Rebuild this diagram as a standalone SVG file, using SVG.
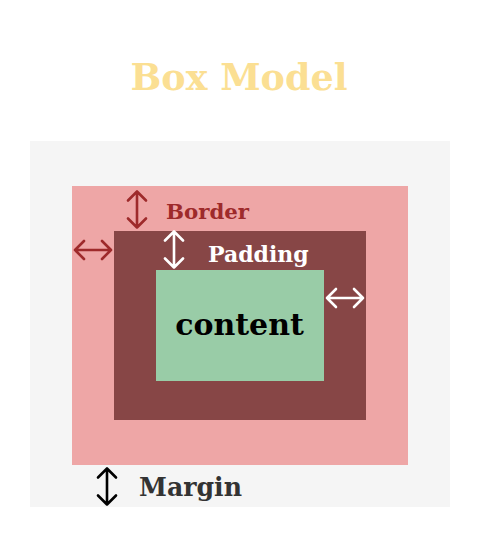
<svg xmlns="http://www.w3.org/2000/svg" xmlns:xlink="http://www.w3.org/1999/xlink" width="480" height="544" viewBox="0 0 480 544">
<style>
text{font-family:"DejaVu Serif","Liberation Serif",serif;font-weight:bold}
.arr{fill:none;stroke-width:2.6;stroke-linecap:round;stroke-linejoin:round}
</style>
<defs>
<path id="va" d="M0,-18V18M-9,-9L0,-18L9,-9M-9,9L0,18L9,9"/>
<path id="ha" d="M-18,0H18M-9,-9L-18,0L-9,9M9,-9L18,0L9,9"/>
</defs>
<rect width="480" height="544" fill="#ffffff"/>
<text x="239" y="90" text-anchor="middle" font-size="36.5" fill="#fbdf93">Box Model</text>
<g id="margin">
<rect x="30" y="141" width="420" height="366" fill="#f5f5f5"/>
</g>
<g id="border">
<rect x="72" y="186" width="336" height="279" fill="#eea6a6"/>
</g>
<g id="padding">
<rect x="114" y="231" width="252" height="189" fill="#874646"/>
</g>
<g id="content">
<rect x="156" y="270" width="168" height="111" fill="#99cca7"/>
<text x="239.5" y="335" text-anchor="middle" font-size="30" fill="#000000">content</text>
</g>
<g id="connectors">
<use xlink:href="#va" x="137" y="209.5" class="arr" stroke="#9e2a2b"/>
<use xlink:href="#ha" x="93" y="250" class="arr" stroke="#9e2a2b"/>
<use xlink:href="#va" x="174" y="249.5" class="arr" stroke="#ffffff"/>
<use xlink:href="#ha" x="345" y="298" class="arr" stroke="#ffffff"/>
<use xlink:href="#va" x="107" y="486.5" class="arr" stroke="#000000"/>
</g>
<g id="labels">
<text x="166" y="219" font-size="21.3" fill="#9e2a2b">Border</text>
<text x="208" y="262" font-size="22" fill="#ffffff">Padding</text>
<text x="139" y="496" font-size="25.2" fill="#333333">Margin</text>
</g>
</svg>
